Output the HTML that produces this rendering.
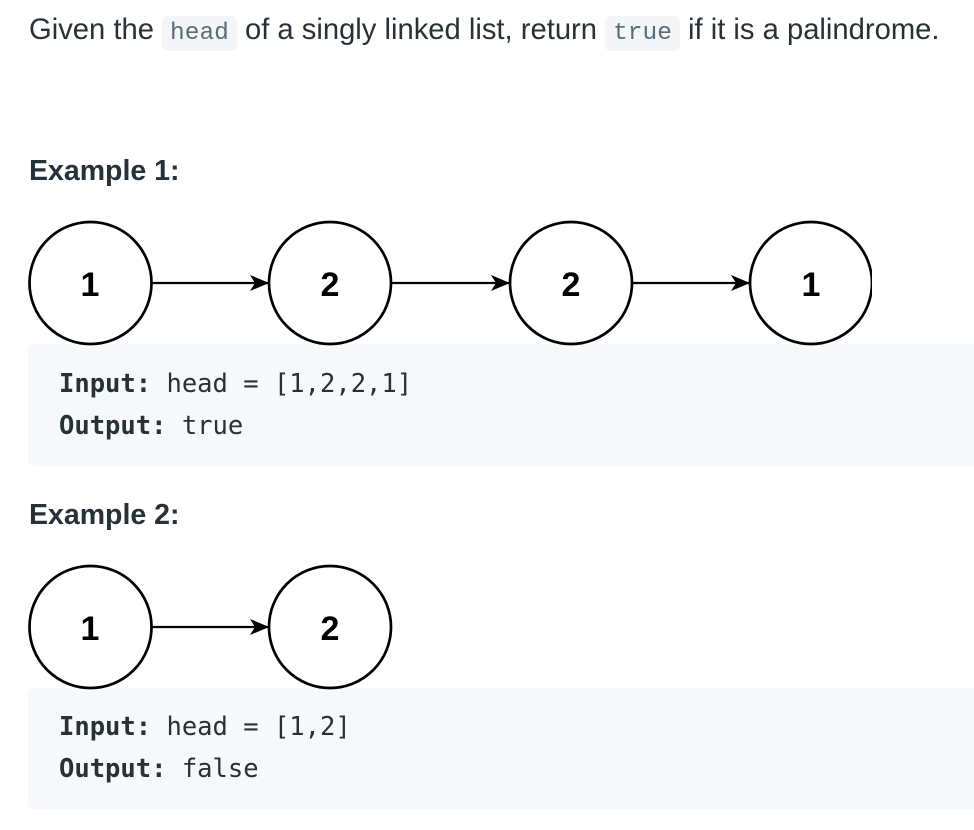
<!DOCTYPE html>
<html><head><meta charset="utf-8"><style>
html,body{margin:0;padding:0;background:#fff;width:974px;height:830px;overflow:hidden;position:relative;font-family:"Liberation Sans",sans-serif;color:#262626}
.p{position:absolute;left:29px;top:14px;font-size:29.2px;white-space:nowrap;color:#263238}
code{font-family:"Liberation Mono",monospace;font-size:24.5px;background:#f3f5f7;color:#546e7a;padding:4px 8px;border-radius:6px}
.h{position:absolute;left:29px;font-size:28.5px;font-weight:bold;color:#263238}
.pre{position:absolute;left:28px;width:946px;background:#f7f8fa;border-radius:6px 0 0 6px;font-family:"DejaVu Sans Mono","Liberation Mono",monospace;font-size:25.5px;color:#263238;box-sizing:border-box;padding-left:31px;line-height:42px}
.pre b{font-weight:bold}
svg{position:absolute;left:0;top:0}
</style></head><body>
<div class="p">Given the <code>head</code> of a singly linked list, return <code>true</code> if it is a palindrome.</div>
<div class="h" style="top:155px">Example 1:</div>
<div class="pre" style="top:344px;height:122px;padding-top:19px"><b>Input:</b> head = [1,2,2,1]<br><b>Output:</b> true</div>
<div class="h" style="top:499px">Example 2:</div>
<div class="pre" style="top:688px;height:121px;padding-top:18px"><b>Input:</b> head = [1,2]<br><b>Output:</b> false</div>
<svg width="974" height="830">
<defs><marker id="a" markerWidth="20" markerHeight="20" refX="19" refY="10" orient="auto" markerUnits="userSpaceOnUse"><path d="M0,2 L19,10 L0,18 L5,10 Z" fill="#000"/></marker></defs>
<g fill="none" stroke="#000" stroke-width="2.7">
<circle cx="90.5" cy="283" r="61"/><circle cx="330" cy="283" r="61"/><circle cx="571" cy="283" r="61"/><circle cx="811" cy="283" r="61"/>
<line x1="152" y1="283" x2="269" y2="283" stroke-width="2.2" marker-end="url(#a)"/>
<line x1="392" y1="283" x2="510" y2="283" stroke-width="2.2" marker-end="url(#a)"/>
<line x1="633" y1="283" x2="750" y2="283" stroke-width="2.2" marker-end="url(#a)"/>
<circle cx="90.5" cy="627" r="61"/><circle cx="330" cy="627" r="61"/>
<line x1="152" y1="627" x2="269" y2="627" stroke-width="2.2" marker-end="url(#a)"/>
</g>
<g font-family="Liberation Sans,sans-serif" font-weight="bold" font-size="34" text-anchor="middle" fill="#000">
<text x="90" y="296">1</text><text x="330" y="296">2</text><text x="571" y="296">2</text><text x="811" y="296">1</text>
<text x="90" y="640">1</text><text x="330" y="640">2</text>
</g>
<rect x="872" y="215" width="102" height="128" fill="#fff"/>
</svg>
</body></html>
